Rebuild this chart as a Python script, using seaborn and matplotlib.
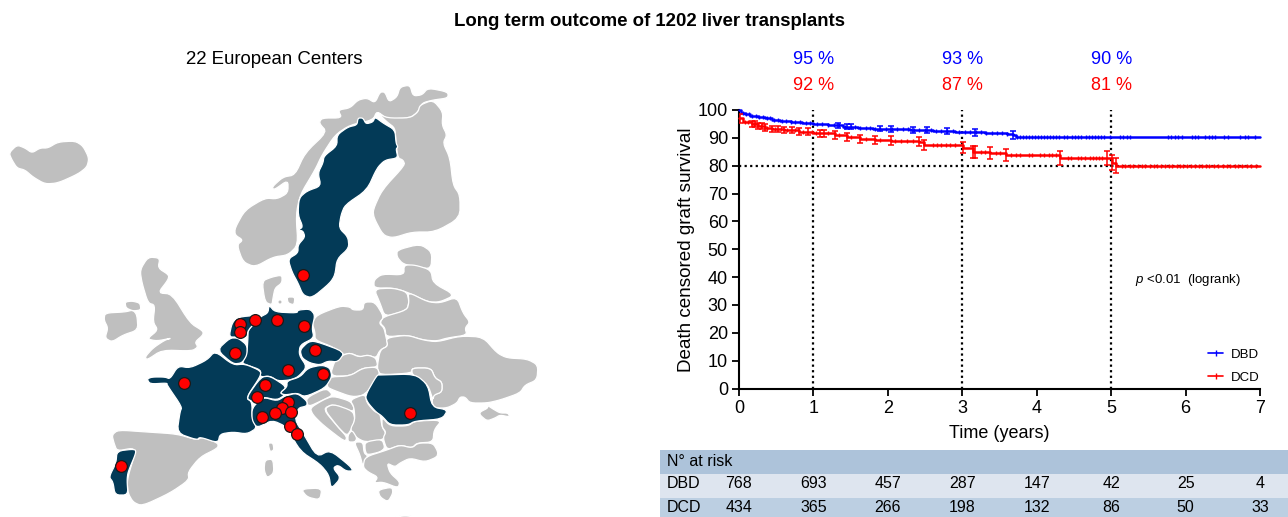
import numpy as np
import pandas as pd
import matplotlib
matplotlib.use("Agg")
import matplotlib.pyplot as plt
import matplotlib.transforms as mtransforms
from matplotlib.lines import Line2D
from matplotlib.patches import Rectangle
import seaborn as sns

# survival curves, years / percent
dbd_t = [0, .03, .08, .15, .25, .35, .45, .55, .7, .85, 1, 1.2, 1.4, 1.6, 1.8, 2, 2.3, 2.6, 2.9, 3.3, 3.6, 3.68, 3.72, 5, 7]
dbd_s = [100, 99, 98.5, 98, 97.5, 97, 96.5, 96.2, 95.8, 95.3, 94.9, 94.5, 94, 93.6, 93.3, 93.1, 92.8, 92.4, 92, 91.6, 91.3, 90.9, 90.4, 90.4, 90.4]
dcd_t = [0, .05, .17, .26, .35, .44, .6, .8, 1, 1.29, 1.45, 1.63, 1.83, 2.04, 2.42, 2.48, 3.01, 3.15, 3.37, 3.59, 4.31, 4.95, 5.01, 5.07, 7]
dcd_s = [97, 95.6, 95, 94.4, 93.7, 93.2, 92.8, 92.2, 91.6, 91, 90.3, 89.7, 89.2, 88.9, 88.6, 87.4, 86.5, 84.9, 84.5, 83.8, 82.7, 82.7, 81, 80, 80]

# error bars, half widths
dbd_err_t = [1.33, 1.45, 1.51, 1.89, 2.04, 2.34, 2.52, 2.79, 3.17, 3.68]
dbd_err_h = [1, 1, 1, 1, 1, 1, 1.1, 1.1, 1.2, 1.4]
dcd_err_t = [.02, .17, .215, .26, .305, .35, .44, .53, .6, .71, .8, .93, 1.09, 1.14, 1.29, 1.45, 1.63, 1.83, 2.04, 2.42, 2.48, 3.01, 3.15, 3.17, 3.37, 3.59, 4.31, 4.95, 5.01, 5.07]
dcd_err_h = [1.5, 1.1, 1.1, 1.1, 1.1, 1.1, 1.1, 1.1, 1.1, 1.2, 1.2, 1.2, 1.3, 1.3, 1.3, 1.4, 1.5, 1.5, 1.6, 1.7, 1.7, 1.9, 2, 2, 2.1, 2.2, 2.4, 2.6, 2.7, 2.8]

# censored patients
dbd_cens = [.05, .1, .14, .18, .23, .27, .32, .37, .42, .47, .52, .58, .63, .7, .75, .82, .9, .96, 1.05, 1.12, 1.2, 1.27, 1.35, 1.42, 1.5, 1.56, 1.62, 1.7, 1.76, 1.83, 1.9, 1.97, 2.05, 2.12, 2.2, 2.27, 2.35, 2.42, 2.5, 2.58, 2.65, 2.72, 2.8, 2.88, 2.96, 3.03, 3.1, 3.18, 3.25, 3.32, 3.4, 3.47, 3.54, 3.6, 3.74, 3.78, 3.82, 3.86, 3.9, 3.94, 3.98, 4.02, 4.06, 4.1, 4.14, 4.18, 4.22, 4.26, 4.3, 4.36, 4.41, 4.47, 4.52, 4.56, 4.6, 4.66, 4.7, 4.74, 4.78, 4.82, 4.86, 4.9, 4.98, 5.12, 5.16, 5.21, 5.25, 5.77, 5.81, 5.86, 5.9, 5.95, 6.08, 6.13, 6.17, 6.26, 6.31, 6.35, 6.39, 6.51, 6.57, 6.73, 6.8, 6.84, 6.93]
dcd_cens = [.08, .12, .2, .24, .3, .38, .48, .56, .65, .75, .86, .98, 1.03, 1.2, 1.35, 1.5, 1.7, 1.9, 2.1, 2.18, 2.26, 2.34, 2.6, 2.66, 2.72, 2.78, 2.84, 2.9, 3.25, 3.3, 3.45, 3.5, 3.66, 3.72, 3.78, 3.9, 3.94, 4.05, 4.1, 4.16, 4.21, 4.26, 4.42, 4.46, 4.55, 4.6, 4.65, 4.72, 4.76, 4.8, 4.84, 4.88, 5.14, 5.19, 5.25, 5.3, 5.36, 5.42, 5.46, 5.52, 5.57, 5.62, 5.67, 5.72, 5.78, 5.82, 5.88, 5.93, 5.97, 6.02, 6.07, 6.12, 6.18, 6.22, 6.28, 6.32, 6.38, 6.44, 6.5, 6.55, 6.6, 6.66, 6.71, 6.76, 6.82, 6.88, 6.94]

xticks = [0, 1, 2, 3, 4, 5, 6, 7]
yticks = list(range(0, 101, 10))
marked_years = [1, 3, 5]
dbd_pct = ["95 %", "93 %", "90 %"]
dcd_pct = ["92 %", "87 %", "81 %"]
dbd_risk = [768, 693, 457, 287, 147, 42, 25, 4]
dcd_risk = [434, 365, 266, 198, 132, 86, 50, 33]

# map outlines, image pixels
gray_shapes = {
    "iceland": [(9,153),(17,145),(25,148),(32,153),(40,148),(48,148),(58,142),(75,141),(83,146),(89,158),(87,167),(78,174),(58,183),(45,184),(33,177),(25,170),(17,168),(12,160)],
    "norway": [(235,228),(245,210),(265,198),(277,199),(288,193),(288,180),(274,190),(272,187),(283,177),(295,175),(305,153),(327,132),(319,123),(322,118),(342,118),(338,110),(350,108),(358,100),(367,98),(375,103),(380,92),(385,92),(389,102),(397,97),(400,87),(410,85),(413,96),(422,95),(428,88),(448,92),(448,98),(433,100),(422,103),(418,112),(410,118),(387,119),(377,111),(373,120),(350,125),(335,135),(322,155),(315,170),(300,195),(296,215),(298,245),(288,255),(273,257),(255,267),(243,262),(237,245),(243,240),(235,235)],
    "finland": [(420,105),(433,100),(443,112),(442,125),(447,135),(443,143),(450,158),(453,185),(460,195),(460,218),(435,232),(412,232),(393,238),(383,235),(374,218),(373,210),(382,190),(405,165),(403,160),(398,158),(396,143),(395,128),(387,122),(378,113),(387,118),(410,118),(418,112)],
    "estonia": [(397,250),(420,244),(432,252),(431,269),(417,267),(403,264),(397,257)],
    "latvia": [(374,280),(382,274),(404,275),(404,265),(415,265),(431,270),(433,283),(455,295),(440,302),(428,302),(407,292),(393,288),(374,288)],
    "lithuania": [(374,289),(393,288),(407,292),(409,302),(407,310),(385,317),(380,303)],
    "belarus": [(408,292),(428,302),(440,303),(457,297),(463,313),(470,322),(465,328),(467,335),(447,338),(437,341),(423,340),(407,335),(386,337),(385,328),(380,323),(383,317),(407,310),(409,302)],
    "poland": [(312,323),(317,315),(340,306),(350,307),(353,310),(363,310),(364,302),(375,302),(384,317),(379,323),(384,328),(386,337),(388,346),(380,350),(376,358),(368,355),(360,357),(350,353),(343,355),(333,347),(315,340),(315,332)],
    "ukraine": [(386,338),(407,335),(423,340),(437,342),(460,336),(483,337),(497,353),(507,358),(527,359),(538,365),(537,380),(525,385),(520,393),(500,400),(487,403),(470,403),(465,397),(460,397),(457,403),(447,408),(435,408),(432,403),(433,395),(442,392),(442,382),(435,378),(431,368),(412,368),(412,373),(380,375),(377,368),(380,350),(388,346)],
    "moldova": [(412,368),(431,368),(435,378),(442,382),(442,392),(434,395),(433,400),(428,385),(418,378),(412,374)],
    "crimea": [(487,405),(488,408),(480,412),(480,415),(487,421),(495,418),(500,415),(510,417),(508,413),(500,413),(493,409)],
    "slovakia": [(343,355),(350,353),(359,357),(368,355),(376,358),(378,367),(363,368),(350,376),(330,376),(335,360)],
    "hungary": [(328,377),(350,376),(363,368),(377,367),(380,375),(365,395),(352,397),(333,390),(327,387)],
    "spain": [(112,435),(118,430),(147,432),(177,434),(197,440),(202,437),(218,443),(218,448),(200,457),(188,472),(189,480),(170,493),(142,506),(133,502),(128,493),(127,480),(135,453),(133,448),(117,451),(114,443)],
    "britain": [(140,270),(148,257),(160,258),(158,268),(169,275),(168,280),(158,293),(172,294),(190,323),(203,331),(203,335),(195,342),(198,347),(192,351),(162,350),(147,360),(145,357),(153,348),(165,340),(172,338),(157,341),(147,339),(158,330),(153,322),(155,305),(148,303),(142,283)],
    "ireland": [(105,313),(125,312),(133,310),(137,315),(138,330),(123,335),(112,342),(105,338),(108,328),(104,320)],
    "n_ireland": [(125,302),(132,301),(140,303),(141,310),(133,311),(126,308)],
    "denmark": [(262,281),(272,277),(282,275),(282,283),(275,288),(273,298),(272,305),(265,302)],
    "zealand": [(287,297),(295,297),(294,305),(288,303)],
    "funen": [(278,300),(282,300),(282,304),(278,304)],
    "corsica": [(268,443),(273,443),(274,450),(270,452)],
    "sardinia": [(265,460),(273,459),(274,473),(267,478),(264,470)],
    "sicily": [(301,489),(322,488),(320,500),(307,497)],
    "slovenia": [(306,398),(326,388),(333,395),(323,400),(308,407)],
    "croatia": [(310,408),(323,400),(333,396),(350,401),(354,407),(353,412),(333,404),(323,409),(338,427),(347,437),(345,442),(323,425),(313,415)],
    "bosnia": [(324,409),(333,404),(353,411),(355,420),(352,428),(347,436),(338,427)],
    "serbia": [(350,400),(365,394),(367,403),(375,412),(380,413),(382,427),(386,433),(383,440),(365,442),(357,438),(350,430),(355,420),(354,407)],
    "montenegro": [(348,435),(352,430),(357,438),(355,442),(348,442)],
    "macedonia": [(365,442),(382,439),(385,448),(380,452),(367,455),(365,450)],
    "albania": [(354,442),(363,442),(364,453),(368,456),(363,467),(360,455)],
    "bulgaria": [(382,417),(390,426),(408,426),(415,421),(442,420),(434,430),(433,442),(417,443),(412,448),(400,445),(387,450),(383,438),(386,432),(382,427)],
    "greece": [(365,457),(387,450),(400,445),(412,448),(418,443),(433,443),(438,452),(437,457),(425,462),(410,458),(400,463),(395,467),(387,463),(390,473),(400,482),(398,488),(383,482),(374,483),(378,477),(368,472),(363,467)],
    "peloponnese": [(378,490),(392,487),(393,493),(388,502),(380,497)],
    "crete": [(393,517),(405,515),(418,517)],
}
dark_shapes = {
    "sweden": [(288,259),(298,253),(298,245),(305,237),(303,231),(298,230),(303,227),(298,215),(299,198),(307,191),(321,186),(318,173),(323,163),(324,156),(337,146),(337,135),(348,127),(357,125),(358,118),(363,118),(366,124),(373,122),(375,117),(383,123),(395,130),(396,143),(398,147),(396,149),(398,158),(385,160),(377,168),(367,190),(345,205),(341,215),(339,228),(348,237),(349,248),(337,259),(335,275),(330,283),(312,298),(303,295),(298,283),(292,272)],
    "romania": [(380,375),(415,374),(428,385),(432,407),(448,410),(442,419),(415,421),(408,425),(390,425),(382,416),(376,412),(368,403),(365,396),(377,375)],
    "czechia": [(300,350),(308,342),(315,341),(345,352),(338,362),(328,361),(320,365),(310,363),(302,358)],
    "germany": [(269,305),(275,312),(297,313),(298,310),(310,309),(315,315),(312,328),(314,338),(300,345),(299,355),(307,367),(298,377),(290,380),(278,381),(270,376),(260,377),(261,370),(247,365),(242,363),(247,353),(248,337),(248,330),(260,317),(268,313)],
    "netherlands": [(229,337),(232,323),(238,317),(260,315),(260,318),(248,330),(247,338),(237,337)],
    "belgium": [(217,350),(230,338),(238,338),(247,345),(247,355),(242,363),(233,364)],
    "france": [(215,351),(233,365),(245,364),(261,371),(260,377),(246,398),(252,402),(252,418),(257,428),(247,434),(233,432),(220,434),(218,443),(200,437),(197,440),(177,433),(180,412),(182,407),(167,385),(167,383),(150,384),(147,379),(152,377),(165,377),(170,379),(178,366),(190,368),(207,360)],
    "switzerland": [(261,377),(270,376),(287,387),(280,393),(285,395),(277,400),(263,397),(253,402),(246,398)],
    "austria": [(287,381),(300,377),(308,368),(322,365),(330,368),(332,377),(325,388),(305,397),(297,393),(285,395),(280,393),(287,387)],
    "italy": [(252,408),(263,397),(277,401),(285,396),(297,393),(307,401),(307,406),(298,408),(295,420),(303,433),(317,457),(330,450),(350,466),(353,471),(346,471),(338,465),(333,468),(341,478),(331,489),(329,475),(320,464),(300,451),(287,427),(272,420),(257,428),(252,420)],
    "portugal": [(117,451),(135,449),(136,453),(128,472),(127,480),(128,495),(115,495),(113,482),(109,477),(116,463)],
}
center_x = [303, 240, 240, 255, 277, 304, 235, 315, 288, 323, 184, 265, 257, 288, 282, 275, 291, 262, 290, 297, 121, 410]
center_y = [275, 324, 332, 320, 320, 326, 353, 350, 370, 374, 383, 385, 397, 402, 408, 413, 412, 417, 426, 434, 466, 413]

sns.set_theme(style="ticks")
plt.rcParams['font.family'] = ['Liberation Sans', 'DejaVu Sans']
plt.rcParams['mathtext.fontset'] = 'custom'
plt.rcParams['mathtext.it'] = 'Liberation Sans:italic'
plt.rcParams['mathtext.rm'] = 'Liberation Sans'

BLUE = "#0000ff"
RED = "#ff0000"
W, H = 1288, 517
fig = plt.figure(figsize=(W / 100, H / 100), dpi=100)

# page axes in pixels, for the map and the table
page = fig.add_axes([0, 0, 1, 1])
page.set_xlim(0, W)
page.set_ylim(H, 0)
page.axis("off")


def rounded(pts, passes=2):
    # cut the corners so the outlines look drawn, not straight segments
    p = np.array(pts, dtype=float)
    for _ in range(passes):
        nxt = np.roll(p, -1, axis=0)
        p = np.column_stack([.8 * p + .2 * nxt, .2 * p + .8 * nxt]).reshape(-1, 2)
    return p


for pts in gray_shapes.values():
    page.fill(*rounded(pts).T, facecolor="#bfbfbf", edgecolor="white", linewidth=0.9)
for pts in dark_shapes.values():
    page.fill(*rounded(pts).T, facecolor="#033a57", edgecolor="white", linewidth=0.9)
sns.scatterplot(x=center_x, y=center_y, color=RED, edgecolor="#1a1a1a", linewidth=0.9, s=72, ax=page, zorder=5, clip_on=False)
page.set_xlim(0, W)
page.set_ylim(H, 0)

page.text(650, 21, "Long term outcome of 1202 liver transplants", ha="center", va="center", fontsize=13.4, fontweight="bold", color="black")
page.text(274, 59, "22 European Centers", ha="center", va="center", fontsize=13.4, color="black")

# table
page.add_patch(Rectangle((660, 450), 628, 24, facecolor="#adc3da", edgecolor="none"))
page.add_patch(Rectangle((660, 474), 628, 24, facecolor="#dee5ef", edgecolor="none"))
page.add_patch(Rectangle((660, 498), 628, 19, facecolor="#bccfe2", edgecolor="none"))
page.text(667, 462, "N° at risk", va="center", fontsize=11.5, color="black")
page.text(667, 484, "DBD", va="center", fontsize=11.5, color="black")
page.text(667, 508, "DCD", va="center", fontsize=11.5, color="black")

# survival plot
ax = fig.add_axes([739 / W, 1 - 388.5 / H, 521 / W, 278.5 / H])
ax.patch.set_alpha(0)


def at_time(times, surv, when):
    idx = np.searchsorted(times, when, side="right") - 1
    return np.array(surv)[idx]


for times, surv, err_t, err_h, cens, col, name in [
    (dbd_t, dbd_s, dbd_err_t, dbd_err_h, dbd_cens, BLUE, "DBD"),
    (dcd_t, dcd_s, dcd_err_t, dcd_err_h, dcd_cens, RED, "DCD"),
]:
    df = pd.DataFrame({"t": times, "s": surv})
    sns.lineplot(data=df, x="t", y="s", color=col, linewidth=1.8, drawstyle="steps-post",
                 estimator=None, errorbar=None, ax=ax, zorder=3, clip_on=False)
    ax.errorbar(err_t, at_time(times, surv, err_t), yerr=err_h, fmt="none", ecolor=col,
                elinewidth=1.1, capsize=2.5, capthick=1.1, zorder=3)
    sns.scatterplot(x=cens, y=at_time(times, surv, cens), marker="|", color=col, s=9, linewidth=1, ax=ax, zorder=3)

for yr in marked_years:
    ax.axvline(yr, color="black", linewidth=1.6, linestyle=(0, (1, 1.5)), zorder=2)
ax.axhline(80, color="black", linewidth=1.6, linestyle=(0, (1, 1.5)), zorder=2)

ax.set_xlim(0, 7)
ax.set_ylim(0, 100)
ax.set_xticks(xticks)
ax.set_yticks(yticks)
ax.tick_params(axis="both", labelsize=13, length=5, width=1.3, color="black", labelcolor="black", pad=3)
ax.set_xlabel("Time (years)", fontsize=13, color="black", labelpad=6)
ax.set_ylabel("Death censored graft survival", fontsize=13.6, color="black", labelpad=2)
for side in ["top", "right"]:
    ax.spines[side].set_visible(False)
for side in ["left", "bottom"]:
    ax.spines[side].set_linewidth(1.5)
    ax.spines[side].set_color("black")

ax.text(1135, 280, r"$\mathit{p}$ <0.01  (logrank)", fontsize=9.5, color="black", va="center",
        transform=page.transData)

handles = [Line2D([], [], color=BLUE, marker="|", markersize=4, linewidth=1.2, label="DBD"),
           Line2D([], [], color=RED, marker="|", markersize=4, linewidth=1.2, label="DCD")]
ax.legend(handles=handles, loc="lower right", bbox_to_anchor=(1.02, -0.02), frameon=False, fontsize=9.5,
          handlelength=1.15, handletextpad=0.6, labelspacing=0.8, borderpad=0.3, labelcolor="black")

# labels tied to the x axis
top_trans = mtransforms.blended_transform_factory(ax.transData, page.transData)
for yr, b, r in zip(marked_years, dbd_pct, dcd_pct):
    page.text(yr, 59, b, color=BLUE, ha="center", va="center", fontsize=13, transform=top_trans)
    page.text(yr, 85, r, color=RED, ha="center", va="center", fontsize=13, transform=top_trans)
for yr, a, b in zip(xticks, dbd_risk, dcd_risk):
    page.text(yr, 484, str(a), ha="center", va="center", fontsize=11.5, color="black", transform=top_trans)
    page.text(yr, 508, str(b), ha="center", va="center", fontsize=11.5, color="black", transform=top_trans)

fig.savefig("out.png", dpi=100)
